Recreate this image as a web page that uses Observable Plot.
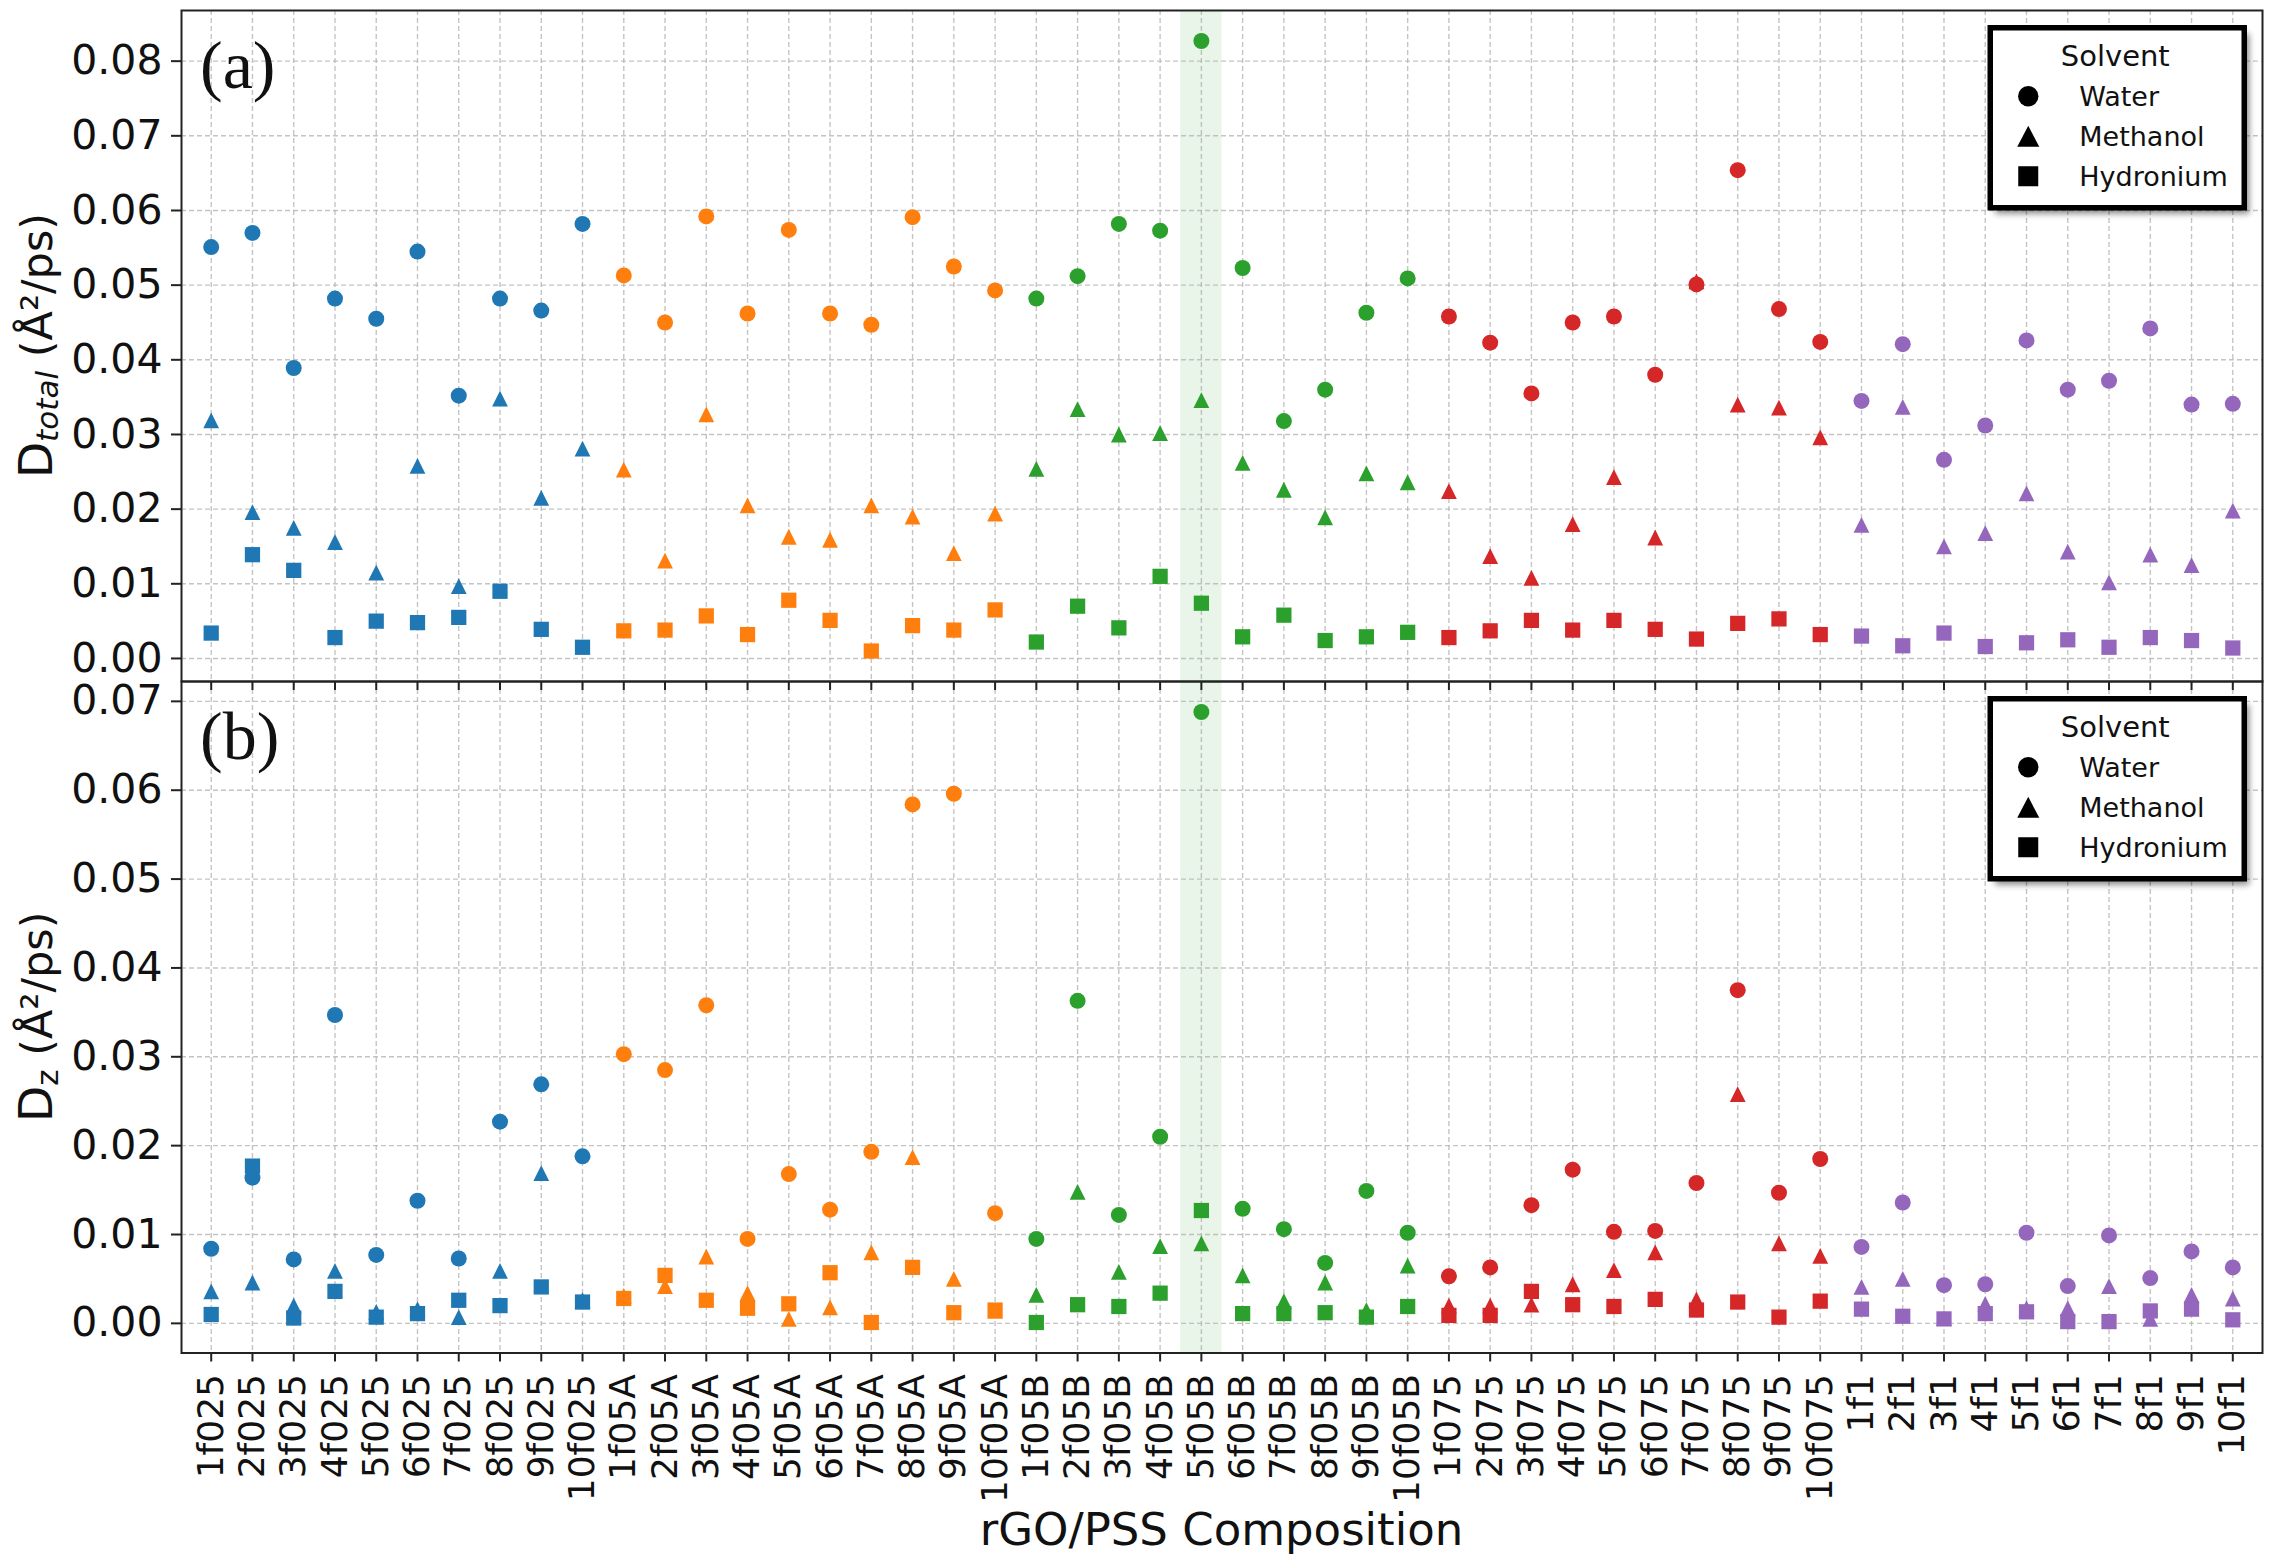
<!DOCTYPE html>
<html><head><meta charset="utf-8">
<script src="https://cdn.jsdelivr.net/npm/d3@7"></script>
<script src="https://cdn.jsdelivr.net/npm/@observablehq/plot@0.6"></script>
<style>
html,body{margin:0;padding:0;background:#fff;}
#wrap{position:relative;width:2280px;height:1563px;overflow:hidden;background:#fff;font-family:"DejaVu Sans",sans-serif;}
#wrap > svg{position:absolute;left:0;top:0;}
</style></head><body><div id="wrap"></div>
<script>
// ---------- data ----------
const categories = ["1f025","2f025","3f025","4f025","5f025","6f025","7f025","8f025","9f025","10f025",
  "1f05A","2f05A","3f05A","4f05A","5f05A","6f05A","7f05A","8f05A","9f05A","10f05A",
  "1f05B","2f05B","3f05B","4f05B","5f05B","6f05B","7f05B","8f05B","9f05B","10f05B",
  "1f075","2f075","3f075","4f075","5f075","6f075","7f075","8f075","9f075","10f075",
  "1f1","2f1","3f1","4f1","5f1","6f1","7f1","8f1","9f1","10f1"];
const groups = ["f025","f05A","f05B","f075","f1"];
const solvents = ["Water","Methanol","Hydronium"];
const highlighted = "5f05B";

const waterTotal = [0.0551,0.0570,0.0389,0.0482,0.0455,0.0545,0.0352,0.0482,0.0466,0.0582,
  0.0513,0.0450,0.0592,0.0462,0.0574,0.0462,0.0447,0.0591,0.0525,0.0493,
  0.0482,0.0512,0.0582,0.0573,0.0827,0.0523,0.0318,0.0360,0.0463,0.0509,
  0.0458,0.0423,0.0355,0.0450,0.0458,0.0380,0.0501,0.0654,0.0468,0.0424,
  0.0345,0.0421,0.0266,0.0312,0.0426,0.0360,0.0372,0.0442,0.0340,0.0341];
const methanolTotal = [0.0319,0.0196,0.0175,0.0156,0.0115,0.0258,0.0097,0.0348,0.0215,0.0281,
  0.0253,0.0131,0.0327,0.0205,0.0163,0.0159,0.0205,0.0190,0.0141,0.0194,
  0.0254,0.0334,0.0300,0.0302,0.0346,0.0262,0.0226,0.0189,0.0248,0.0236,
  0.0224,0.0137,0.0108,0.0180,0.0243,0.0162,0.0505,0.0340,0.0336,0.0296,
  0.0179,0.0337,0.0150,0.0168,0.0221,0.0143,0.0102,0.0139,0.0125,0.0198];
const hydroniumTotal = [0.0034,0.0139,0.0118,0.0028,0.0050,0.0048,0.0055,0.0090,0.0039,0.0015,
  0.0037,0.0038,0.0057,0.0032,0.0078,0.0051,0.0010,0.0044,0.0038,0.0065,
  0.0022,0.0070,0.0041,0.0110,0.0074,0.0029,0.0058,0.0024,0.0029,0.0035,
  0.0028,0.0037,0.0051,0.0038,0.0051,0.0039,0.0026,0.0047,0.0053,0.0032,
  0.0030,0.0017,0.0034,0.0016,0.0021,0.0025,0.0015,0.0028,0.0024,0.0014];

const waterZ = [0.0084,0.0164,0.0072,0.0347,0.0077,0.0138,0.0073,0.0227,0.0269,0.0188,
  0.0303,0.0285,0.0358,0.0095,0.0168,0.0128,0.0193,0.0584,0.0596,0.0124,
  0.0095,0.0363,0.0122,0.0210,0.0688,0.0129,0.0106,0.0068,0.0149,0.0102,
  0.0053,0.0063,0.0133,0.0173,0.0103,0.0104,0.0158,0.0375,0.0147,0.0185,
  0.0086,0.0136,0.0043,0.0044,0.0102,0.0042,0.0099,0.0051,0.0081,0.0063];
const methanolZ = [0.0036,0.0046,0.0020,0.0059,0.0013,0.0016,0.0007,0.0059,0.0169,0.0026,
  0.0031,0.0042,0.0075,0.0034,0.0005,0.0018,0.0080,0.0187,0.0050,0.0014,
  0.0032,0.0148,0.0058,0.0087,0.0090,0.0054,0.0025,0.0046,0.0015,0.0065,
  0.0020,0.0020,0.0021,0.0044,0.0060,0.0080,0.0027,0.0258,0.0090,0.0076,
  0.0041,0.0050,0.0006,0.0022,0.0017,0.0017,0.0042,0.0005,0.0032,0.0028];
const hydroniumZ = [0.0010,0.0177,0.0006,0.0036,0.0007,0.0011,0.0026,0.0020,0.0041,0.0024,
  0.0028,0.0054,0.0026,0.0017,0.0022,0.0057,0.0001,0.0063,0.0012,0.0015,
  0.0001,0.0021,0.0019,0.0034,0.0127,0.0011,0.0011,0.0012,0.0007,0.0019,
  0.0009,0.0009,0.0036,0.0021,0.0019,0.0027,0.0015,0.0024,0.0007,0.0025,
  0.0016,0.0008,0.0005,0.0011,0.0013,0.0002,0.0002,0.0014,0.0016,0.0004];

const yTicksA = [0,0.01,0.02,0.03,0.04,0.05,0.06,0.07,0.08];
const yTicksB = [0,0.01,0.02,0.03,0.04,0.05,0.06,0.07];

// ---------- styling ----------
const W = 2280, H = 1563;
const groupColors = ["#1f77b4","#ff7f0e","#2ca02c","#d62728","#9467bd"];
const FONT = "DejaVu Sans";
const frameLeft = 181, frameRight = 2262;
const aTop = 10, aBottom = 681, bTop = 681, bBottom = 1352.5;
const xDomain = [-0.72, categories.length - 1 + 0.72];

const mplTriangle = {
  draw(context, size) {
    const r = Math.sqrt(size / Math.PI);
    context.moveTo(0, -r); context.lineTo(r, r); context.lineTo(-r, r); context.closePath();
  }
};

function tidy(series) {
  const rows = [];
  categories.forEach((c, i) => {
    series.forEach((vals, k) => rows.push({cat: c, i, group: c.replace(/^\d+/, ""), solvent: solvents[k], value: vals[i]}));
  });
  return rows;
}
const rowsA = tidy([waterTotal, methanolTotal, hydroniumTotal]);
const rowsB = tidy([waterZ, methanolZ, hydroniumZ]);
const idx = categories.map((c, i) => i);
const hiIdx = [categories.indexOf(highlighted)];

function padded(rows) {
  const [lo, hi] = d3.extent(rows, d => d.value);
  const m = (hi - lo) * 0.05;
  return [lo - m, hi + m];
}

function panel(rows, yTicks, top, bottom, withLabels) {
  const marks = [
    Plot.rect(hiIdx, {x1: d => d - 0.5, x2: d => d + 0.5, fill: "#2ca02c", fillOpacity: 0.11}),
    Plot.gridX(idx, {stroke: "#b0b0b0", strokeOpacity: 0.75, strokeWidth: 1.4, strokeDasharray: "5,3"}),
    Plot.gridY(yTicks, {stroke: "#b0b0b0", strokeOpacity: 0.75, strokeWidth: 1.4, strokeDasharray: "5,3"}),
    Plot.dot(rows.filter(d => d.solvent === "Water"), {x: "i", y: "value", fill: "group", symbol: "circle", r: 8}),
    Plot.dot(rows.filter(d => d.solvent === "Methanol"), {x: "i", y: "value", fill: "group", symbol: mplTriangle, r: 7.9}),
    Plot.dot(rows.filter(d => d.solvent === "Hydronium"), {x: "i", y: "value", fill: "group", symbol: "square", r: 8.6}),
    Plot.axisY({ticks: yTicks, tickFormat: d3.format(".2f"), fontSize: 41, tickSize: 10, tickPadding: 9, strokeWidth: 2, stroke: "#222", fill: "#111", label: null}),
    withLabels
      ? Plot.axisX({ticks: idx, tickFormat: i => categories[i], tickRotate: -90, fontSize: 36, tickSize: 9, tickPadding: 12, strokeWidth: 2, stroke: "#222", fill: "#111", label: null})
      : Plot.axisX({ticks: idx, tickFormat: () => "", tickSize: 9, strokeWidth: 2, stroke: "#222", label: null}),
    Plot.frame({stroke: "#222", strokeWidth: 2})
  ];
  return Plot.plot({
    width: W, height: H,
    marginLeft: frameLeft, marginRight: W - frameRight,
    marginTop: top, marginBottom: H - bottom,
    x: {type: "linear", domain: xDomain},
    y: {domain: padded(rows)},
    color: {type: "ordinal", domain: groups, range: groupColors},
    style: {background: "none", overflow: "visible", fontFamily: FONT, color: "#111"},
    marks
  });
}

const wrap = document.getElementById("wrap");
wrap.appendChild(panel(rowsB, yTicksB, bTop, bBottom, true));
wrap.appendChild(panel(rowsA, yTicksA, aTop, aBottom, false));

// ---------- overlay: titles, panel tags, legends ----------
const ov = d3.select(wrap).append("svg").attr("width", W).attr("height", H)
  .style("font-family", FONT).style("pointer-events", "none");
const defs = ov.append("defs");
defs.append("filter").attr("id", "blur").attr("x", "-10%").attr("y", "-10%").attr("width", "130%").attr("height", "130%")
  .append("feGaussianBlur").attr("stdDeviation", 3);

function yTitle(cy, sub, italic) {
  const t = ov.append("text").attr("transform", `translate(51.5,${cy}) rotate(-90)`)
    .attr("text-anchor", "middle").attr("fill", "#111").style("font-size", "43px");
  t.append("tspan").style("font-size", "47px").text("D");
  t.append("tspan").attr("dy", 6).style("font-size", "31px").style("font-style", italic ? "italic" : "normal").text(sub);
  t.append("tspan").attr("dy", -6).style("font-size", "43px").text(" (Å²/ps)");
}
yTitle((aTop + aBottom) / 2, "total", true);
yTitle((bTop + bBottom) / 2, "z", false);

ov.append("text").attr("x", (frameLeft + frameRight) / 2).attr("y", 1545).attr("text-anchor", "middle")
  .attr("fill", "#111").style("font-size", "45px").text("rGO/PSS Composition");

function tag(label, baseline) {
  ov.append("text").attr("x", 200).attr("y", baseline).attr("fill", "#111")
    .style("font-family", "'Liberation Serif', 'DejaVu Serif', serif").style("font-size", "68px").text(label);
}
tag("(a)", 88);
tag("(b)", 759);

function legend(top) {
  const g = ov.append("g").attr("transform", `translate(1990.25,${top})`);
  const w = 254, h = 180;
  g.append("rect").attr("x", 5).attr("y", 6).attr("width", w).attr("height", h)
    .attr("fill", "#000").attr("opacity", 0.45).attr("filter", "url(#blur)");
  g.append("rect").attr("width", w).attr("height", h).attr("fill", "#fff").attr("stroke", "#000").attr("stroke-width", 5.5);
  g.append("text").attr("x", 125).attr("y", 38).attr("text-anchor", "middle").attr("fill", "#111")
    .style("font-size", "29px").text("Solvent");
  const rowsY = [68.5, 108.5, 148.5];
  solvents.forEach((s, k) => {
    const cy = rowsY[k];
    if (k === 0) g.append("circle").attr("cx", 38).attr("cy", cy).attr("r", 10.2).attr("fill", "#000");
    if (k === 1) g.append("path").attr("d", `M38,${cy - 10.5}L49,${cy + 10.5}L27,${cy + 10.5}Z`).attr("fill", "#000");
    if (k === 2) g.append("rect").attr("x", 28).attr("y", cy - 10).attr("width", 20).attr("height", 20).attr("fill", "#000");
    g.append("text").attr("x", 89).attr("y", cy + 10).attr("fill", "#111").style("font-size", "27px").text(s);
  });
}
legend(27.75);
legend(698.75);
</script></body></html>
